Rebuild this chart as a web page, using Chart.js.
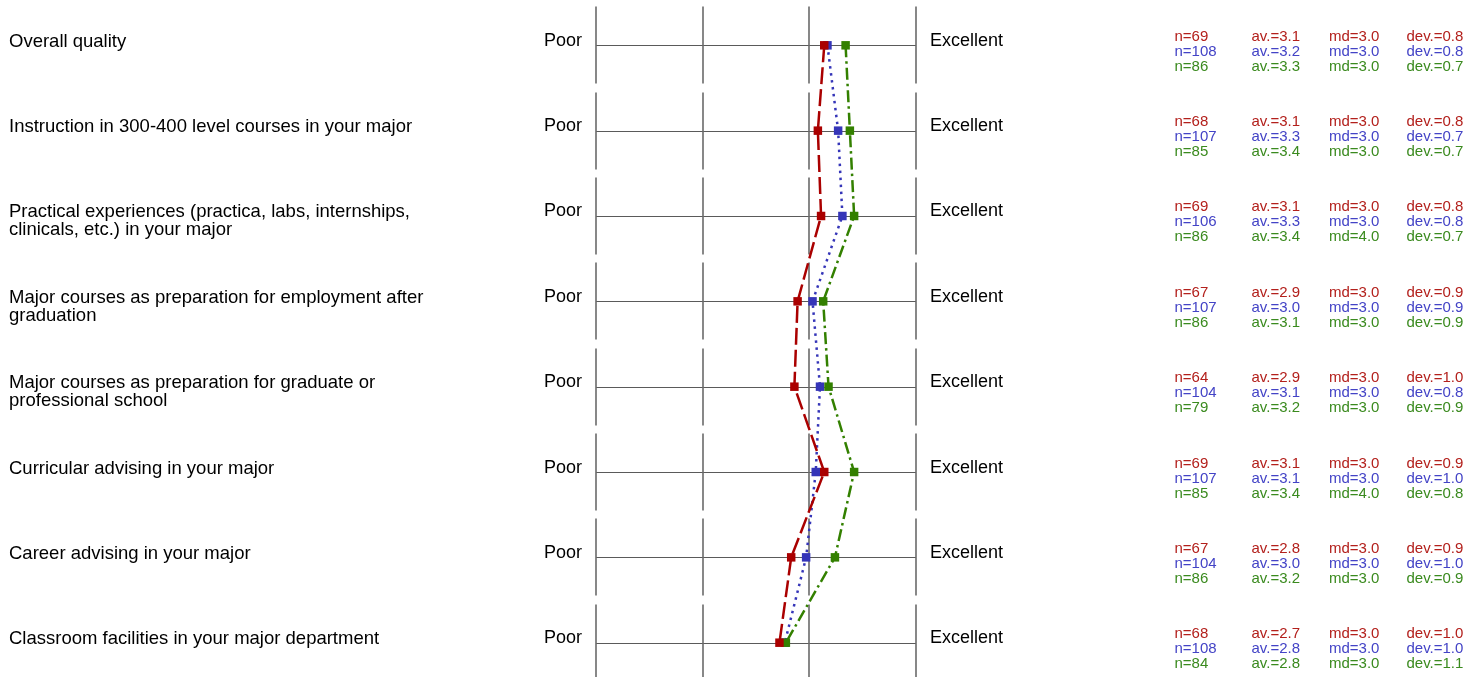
<!DOCTYPE html>
<html>
<head>
<meta charset="utf-8">
<script src="https://cdn.jsdelivr.net/npm/chart.js@4/dist/chart.umd.min.js"></script>
<style>
  html, body { margin: 0; padding: 0; background: #fff; }
  #wrap { position: relative; width: 1483px; height: 677px; }
</style>
</head>
<body>
<div id="wrap"><canvas id="profile" width="1483" height="677"></canvas></div>
<script>
// --- Data ---
const questions = [
  ['Overall quality'],
  ['Instruction in 300-400 level courses in your major'],
  ['Practical experiences (practica, labs, internships,', 'clinicals, etc.) in your major'],
  ['Major courses as preparation for employment after', 'graduation'],
  ['Major courses as preparation for graduate or', 'professional school'],
  ['Curricular advising in your major'],
  ['Career advising in your major'],
  ['Classroom facilities in your major department'],
];
const scaleTicks = [1, 2, 3, 4];
const leftPole = 'Poor';
const rightPole = 'Excellent';

// means per group (red / blue / green)
const meanRed = [3.14, 3.08, 3.11, 2.89, 2.86, 3.14, 2.83, 2.72];
const meanBlue = [3.17, 3.27, 3.31, 3.03, 3.10, 3.06, 2.97, 2.77];
const meanGreen = [3.34, 3.38, 3.42, 3.13, 3.18, 3.42, 3.24, 2.78];

const nRed = [69, 68, 69, 67, 64, 69, 67, 68];
const nBlue = [108, 107, 106, 107, 104, 107, 104, 108];
const nGreen = [86, 85, 86, 86, 79, 85, 86, 84];

const mdRed = [3.0, 3.0, 3.0, 3.0, 3.0, 3.0, 3.0, 3.0];
const mdBlue = [3.0, 3.0, 3.0, 3.0, 3.0, 3.0, 3.0, 3.0];
const mdGreen = [3.0, 3.0, 4.0, 3.0, 3.0, 4.0, 3.0, 3.0];

const devRed = [0.8, 0.8, 0.8, 0.9, 1.0, 0.9, 0.9, 1.0];
const devBlue = [0.8, 0.7, 0.8, 0.9, 0.8, 1.0, 1.0, 1.0];
const devGreen = [0.7, 0.7, 0.7, 0.9, 0.9, 0.8, 0.9, 1.1];

const FONT = '"Liberation Sans", Arial, sans-serif';
const groups = [
  { mean: meanRed, n: nRed, md: mdRed, dev: devRed, line: '#aa0000', text: '#b3201c', dash: [17, 5], order: 1 },
  { mean: meanBlue, n: nBlue, md: mdBlue, dev: devBlue, line: '#3535b8', text: '#4343c6', dash: [2.5, 4.5], order: 3 },
  { mean: meanGreen, n: nGreen, md: mdGreen, dev: devGreen, line: '#338000', text: '#3a8a1e', dash: [12, 4, 2.5, 4], order: 2 },
];

const rowIdx = questions.map((_, i) => i + 1);

// Grid: horizontal line per item, vertical tick segments broken between items
const profileGrid = {
  id: 'profileGrid',
  beforeDatasetsDraw(chart) {
    const { ctx, scales } = chart;
    const xs = scales.x, ys = scales.y;
    ctx.save();
    rowIdx.forEach((r) => {
      const y = Math.round(ys.getPixelForValue(r)) + 0.5;
      ctx.strokeStyle = '#5a5a5a';
      ctx.lineWidth = 1;
      ctx.beginPath();
      ctx.moveTo(xs.getPixelForValue(scaleTicks[0]), y);
      ctx.lineTo(xs.getPixelForValue(scaleTicks[scaleTicks.length - 1]), y);
      ctx.stroke();
      ctx.strokeStyle = '#6a6a6a';
      ctx.lineWidth = 1.6;
      scaleTicks.forEach((t) => {
        const x = Math.round(xs.getPixelForValue(t));
        ctx.beginPath();
        ctx.moveTo(x, y - 39);
        ctx.lineTo(x, y + 38);
        ctx.stroke();
      });
    });
    ctx.restore();
  },
};

// Texts: item labels, scale poles, statistics columns
const profileText = {
  id: 'profileText',
  afterDraw(chart) {
    const { ctx, scales } = chart;
    const xs = scales.x, ys = scales.y;
    ctx.save();
    ctx.textBaseline = 'alphabetic';
    rowIdx.forEach((r, i) => {
      const y = ys.getPixelForValue(r);
      ctx.fillStyle = '#000';
      ctx.font = '18.5px ' + FONT;
      ctx.textAlign = 'left';
      questions[i].forEach((ln, k) => ctx.fillText(ln, 9, y + 1.5 + k * 18));
      ctx.font = '18px ' + FONT;
      ctx.textAlign = 'right';
      ctx.fillText(leftPole, xs.getPixelForValue(1) - 14, y + 0.5);
      ctx.textAlign = 'left';
      ctx.fillText(rightPole, xs.getPixelForValue(4) + 14, y + 0.5);

      ctx.font = '15px ' + FONT;
      groups.forEach((g, k) => {
        const by = y - 4.5 + k * 15;
        ctx.fillStyle = g.text;
        ctx.fillText('n=' + g.n[i], 1174.5, by);
        ctx.fillText('av.=' + g.mean[i].toFixed(1), 1251.5, by);
        ctx.fillText('md=' + g.md[i].toFixed(1), 1329, by);
        ctx.fillText('dev.=' + g.dev[i].toFixed(1), 1406.5, by);
      });
    });
    ctx.restore();
  },
};

new Chart(document.getElementById('profile'), {
  type: 'line',
  data: {
    datasets: groups.map((g) => ({
      data: g.mean.map((m, i) => ({ x: m, y: rowIdx[i] })),
      borderColor: g.line,
      backgroundColor: g.line,
      borderWidth: 2.5,
      borderDash: g.dash,
      pointStyle: 'rect',
      pointRadius: 6,
      pointBorderWidth: 0,
      pointBackgroundColor: g.line,
      tension: 0,
      clip: false,
      order: g.order,
    })),
  },
  plugins: [profileGrid, profileText],
  options: {
    responsive: false,
    animation: false,
    layout: { autoPadding: false, padding: { left: 596, right: 567, top: 0, bottom: 0 } },
    plugins: { legend: { display: false }, tooltip: { enabled: false } },
    scales: {
      x: { type: 'linear', min: 1, max: 4, display: false },
      y: { type: 'linear', min: 0.469, max: 8.402, reverse: true, display: false },
    },
  },
});
</script>
</body>
</html>
